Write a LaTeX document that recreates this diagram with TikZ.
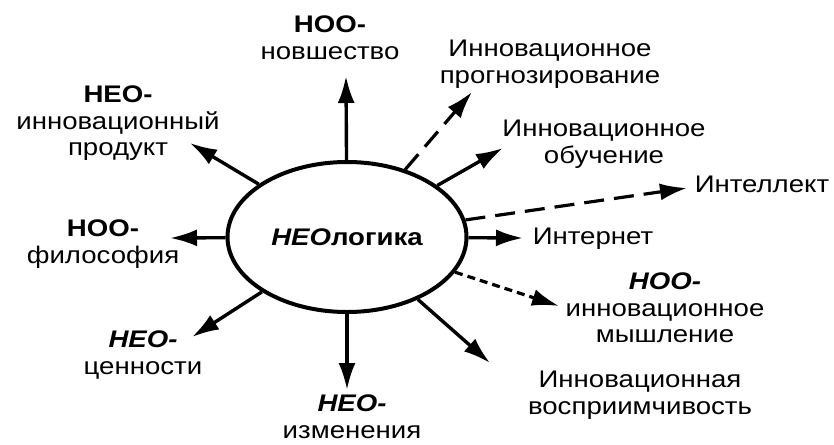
\documentclass[tikz,border=0pt]{standalone}
\usepackage{fontspec}
\setmainfont{Liberation Sans}[FakeStretch=1.15]
\usetikzlibrary{arrows.meta, shapes.geometric}

\begin{document}
\begin{tikzpicture}[x=1pt, y=-1pt,
    strel/.style={line width=3.4pt, -{Latex[length=27pt, width=17pt]}},
    shtrih/.style={strel, line width=3.2pt, dash pattern=on 20pt off 10pt},
    tochki/.style={strel, line width=3.2pt, dash pattern=on 8pt off 5pt},
    podpis/.style={align=center, inner sep=0pt, anchor=north,
                   font=\fontsize{24}{26.5}\selectfont}]
    \useasboundingbox (0,0) rectangle (834,444);

    % центр
    \node[draw, ellipse, line width=4pt, minimum width=239pt, minimum height=150pt,
          inner sep=0pt, font=\fontsize{24}{26.5}\selectfont\bfseries]
          (neo) at (347,237) {\textit{НЕО}логика};

    % подписи
    \node[podpis] (novsh) at (330,15.8) {\textbf{НОО-}\\новшество};
    \node[podpis] (produkt) at (118,85.8) {\textbf{НЕО-}\\инновационный\\продукт};
    \node[podpis] (filos) at (103,219.8) {\textbf{НОО-}\\философия};
    \node[podpis] (tsenn) at (143,330.8) {\textbf{\textit{НЕО-}}\\ценности};
    \node[podpis] (izmen) at (352,394.8) {\textbf{\textit{НЕО-}}\\изменения};
    \node[podpis] (vospr) at (640,370.8) {Инновационная\\восприимчивость};
    \node[podpis] (myshl) at (665,272.8) {\textbf{\textit{НОО-}}\\инновационное\\мышление};
    \node[podpis] (internet) at (593,227.8) {Интернет};
    \node[podpis] (intellekt) at (762,175.8) {Интеллект};
    \node[podpis] (obuch) at (604,119.8) {Инновационное\\обучение};
    \node[podpis] (prognoz) at (550,39.8) {Инновационное\\прогнозирование};

    % концы стрелок
    \coordinate (k1) at (346,76);
    \coordinate (k2) at (190,143);
    \coordinate (k3) at (170,238);
    \coordinate (k4) at (192,337);
    \coordinate (k5) at (347,390);
    \coordinate (k6) at (490,363);
    \coordinate (k7) at (559,306);
    \coordinate (k8) at (523,238);
    \coordinate (k9) at (687,188);
    \coordinate (k10) at (503,148);
    \coordinate (k11) at (472,92);

    \foreach \k in {k1,k2,k3,k4,k5,k6,k8,k10}
        \draw[strel] (neo) -- (\k);
    \draw[shtrih] (neo) -- (k9);
    \draw[shtrih] (neo) -- (k11);
    \draw[tochki] (neo) -- (k7);
\end{tikzpicture}
\end{document}
